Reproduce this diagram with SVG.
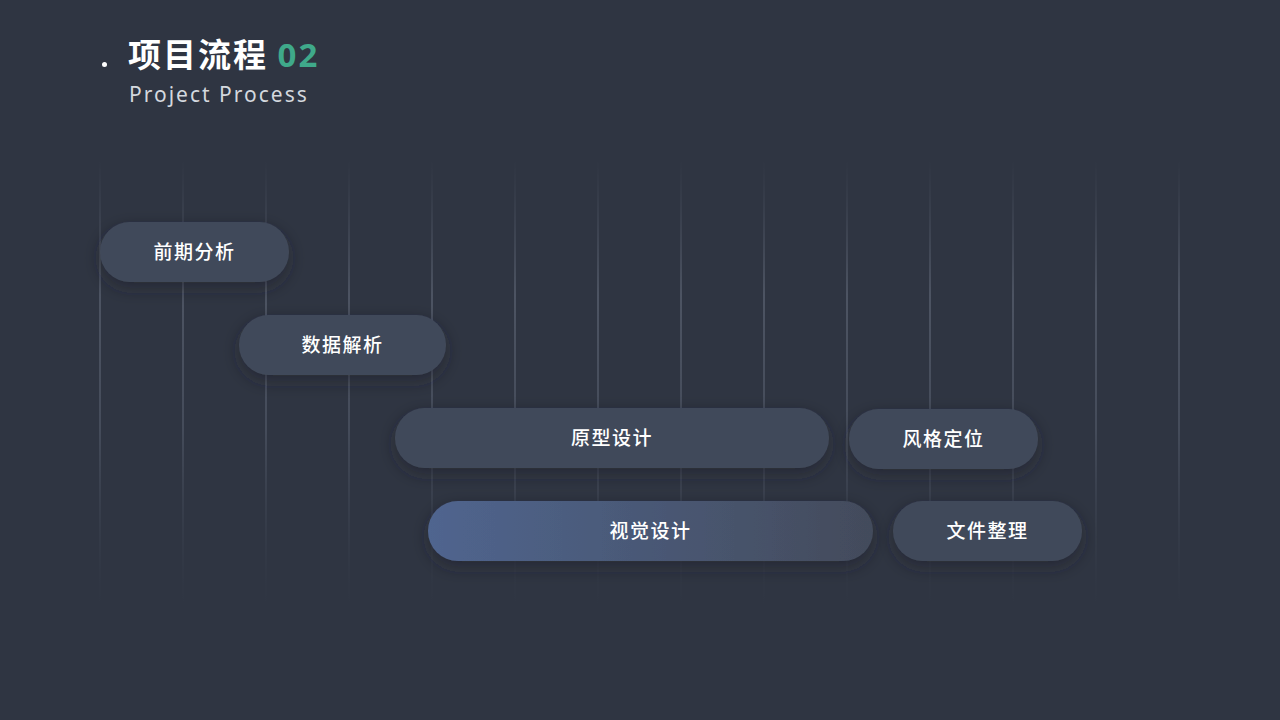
<svg xmlns="http://www.w3.org/2000/svg" width="1280" height="720" viewBox="0 0 1280 720">
<style>
.grid line{stroke:url(#lg);stroke-width:1}
.pill{fill:#414a5a;filter:url(#sh)}
.lbl{font-family:"Noto Sans CJK SC","Noto Sans",sans-serif;font-size:19px;font-weight:500;fill:#ffffff;text-anchor:middle;letter-spacing:1.5px}
</style>
<defs>
<linearGradient id="lg" gradientUnits="userSpaceOnUse" x1="0" y1="160" x2="0" y2="610">
<stop offset="0" stop-color="#5a6272" stop-opacity="0"/>
<stop offset="0.3" stop-color="#6a7282"/>
<stop offset="0.6" stop-color="#5a6272"/>
<stop offset="1" stop-color="#3a4250" stop-opacity="0"/>
</linearGradient>
<linearGradient id="vg" x1="0" y1="0" x2="1" y2="0">
<stop offset="0" stop-color="#50658f"/>
<stop offset="1" stop-color="#434b5b"/>
</linearGradient>
<filter id="sh" x="-20%" y="-50%" width="140%" height="200%">
<feDropShadow dx="0" dy="6" stdDeviation="8" flood-color="#1a1e26" flood-opacity="0.5"/>
</filter>
</defs>
<rect width="1280" height="720" fill="#2f3542"/>
<g class="grid">
<line x1="100" y1="160" x2="100" y2="610"/><line x1="183" y1="160" x2="183" y2="610"/><line x1="266" y1="160" x2="266" y2="610"/><line x1="349" y1="160" x2="349" y2="610"/><line x1="432" y1="160" x2="432" y2="610"/><line x1="515" y1="160" x2="515" y2="610"/><line x1="598" y1="160" x2="598" y2="610"/><line x1="681" y1="160" x2="681" y2="610"/><line x1="764" y1="160" x2="764" y2="610"/><line x1="847" y1="160" x2="847" y2="610"/><line x1="930" y1="160" x2="930" y2="610"/><line x1="1013" y1="160" x2="1013" y2="610"/><line x1="1096" y1="160" x2="1096" y2="610"/><line x1="1179" y1="160" x2="1179" y2="610"/>
</g>
<g id="title">
<circle cx="104.5" cy="64.5" r="2.5" fill="#ffffff"/>
<text x="128" y="67" font-family="Noto Sans CJK SC,sans-serif" font-size="33" font-weight="700" fill="#ffffff" letter-spacing="2">项目流程 <tspan fill="#3fa98a" font-family="Noto Sans,sans-serif">02</tspan></text>
<text x="129" y="102" font-family="Noto Sans,sans-serif" font-size="21" fill="#d4d8de" letter-spacing="2">Project Process</text>
</g>
<g id="connectors"></g>
<g id="n1"><rect class="pill" x="100" y="222" width="189" height="60" rx="30"/><text class="lbl" x="194.5" y="259">前期分析</text></g>
<g id="n2"><rect class="pill" x="239" y="315" width="207" height="60" rx="30"/><text class="lbl" x="342.5" y="352">数据解析</text></g>
<g id="n3"><rect class="pill" x="395" y="408" width="434" height="60" rx="30"/><text class="lbl" x="612" y="445">原型设计</text></g>
<g id="n4"><rect class="pill" x="849" y="409" width="189" height="60" rx="30"/><text class="lbl" x="943.5" y="446">风格定位</text></g>
<g id="n5"><rect class="pill" x="428" y="501" width="445" height="60" rx="30" style="fill:url(#vg)"/><text class="lbl" x="650.5" y="538">视觉设计</text></g>
<g id="n6"><rect class="pill" x="893" y="501" width="189" height="60" rx="30"/><text class="lbl" x="987.5" y="538">文件整理</text></g>
</svg>
